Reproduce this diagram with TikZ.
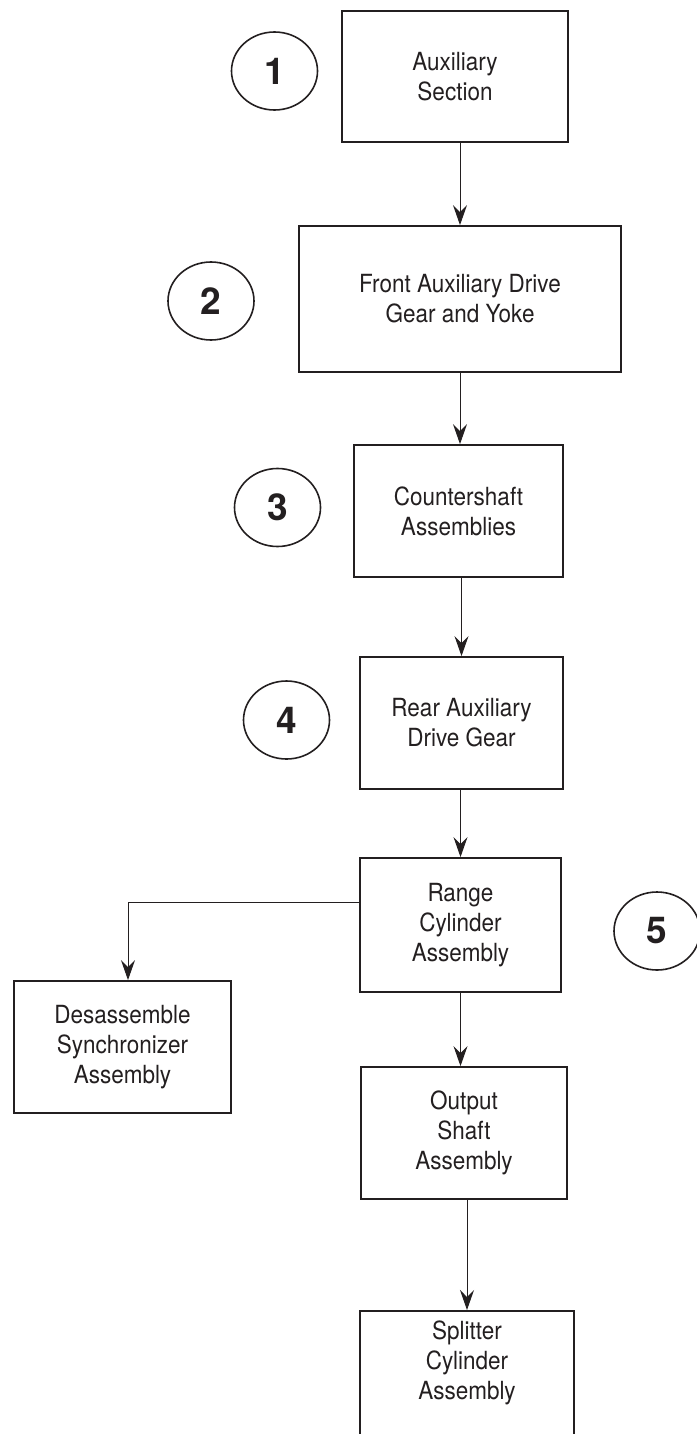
\documentclass[tikz,border=0pt]{standalone}
\usepackage{fontspec}
\setmainfont{TeX Gyre Heros}[FakeStretch=0.9]
\newfontfamily\numfont{TeX Gyre Heros}
\usetikzlibrary{arrows.meta,shapes.geometric}
\definecolor{ink}{HTML}{231F20}
\begin{document}
\begin{tikzpicture}[x=1pt,y=-1pt,
  stagebox/.style={draw=ink,line width=1.8pt,align=center,inner sep=0pt,text=ink,font=\fontsize{25}{30}\selectfont},
  stepnum/.style={draw=ink,line width=1.6pt,ellipse,minimum width=86pt,minimum height=78pt,inner sep=0pt,text=ink,font=\numfont\bfseries\fontsize{37}{37}\selectfont},
  flow/.style={draw=ink,line width=1pt,-{Stealth[length=20pt,width=14pt,inset=7pt]}}]
\useasboundingbox (0,0) rectangle (696,1434);
\node[stagebox,minimum width=226pt,minimum height=131pt] (b1) at (455,76.5) {Auxiliary\\Section};
\node[stagebox,minimum width=322pt,minimum height=146pt] (b2) at (460,299) {Front Auxiliary Drive\\Gear and Yoke};
\node[stagebox,minimum width=209pt,minimum height=132pt] (b3) at (458.5,511) {Countershaft\\Assemblies};
\node[stagebox,minimum width=203pt,minimum height=132pt] (b4) at (461.5,723) {Rear Auxiliary\\Drive Gear};
\node[stagebox,minimum width=201pt,minimum height=134pt] (b5) at (460.5,925) {Range\\Cylinder\\Assembly};
\node[stagebox,minimum width=206pt,minimum height=132pt] (b6) at (464,1133) {Output\\Shaft\\Assembly};
\node[stagebox,minimum width=217pt,minimum height=132pt] (bd) at (122.5,1047) {Desassemble\\Synchronizer\\Assembly};
\node[stagebox,minimum width=214pt,inner ysep=10pt,text depth=90pt,anchor=north] (b7) at (467,1310) {Splitter\\Cylinder\\Assembly};
\node[stepnum] (c1) at (274.5,71) {1};
\node[stepnum] (c2) at (211,301) {2};
\node[stepnum] (c3) at (277.5,507.5) {3};
\node[stepnum] (c4) at (286.5,720) {4};
\node[stepnum] (c5) at (657,931) {5};
\draw[flow] (b2.north |- b1.south) -- (b2.north);
\draw[flow] (b2.south) -- (b2.south |- b3.north);
\draw[flow] (b4.north |- b3.south) -- (b4.north);
\draw[flow] (b5.north |- b4.south) -- (b5.north);
\draw[flow] (b5.south) -- (b5.south |- b6.north);
\draw[flow] (b7.north |- b6.south) -- (b7.north);
\draw[flow] ([yshift=23pt]b5.west) -| ([xshift=5.5pt]bd.north);
\end{tikzpicture}
\end{document}
